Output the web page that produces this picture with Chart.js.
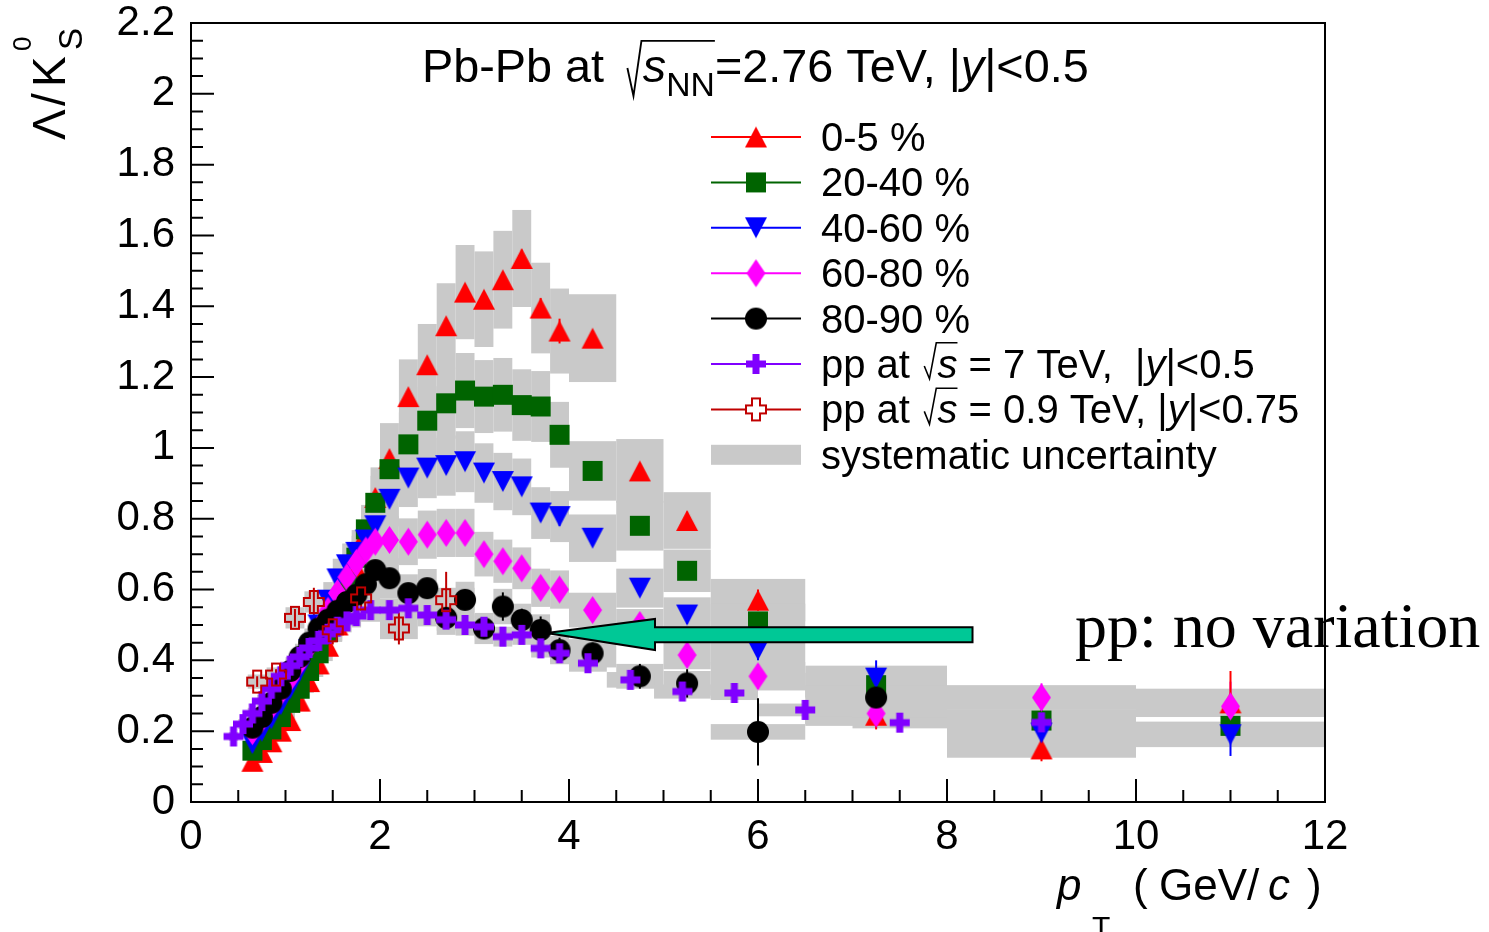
<!DOCTYPE html>
<html>
<head>
<meta charset="utf-8">
<script src="https://cdn.jsdelivr.net/npm/chart.js@4.4.1/dist/chart.umd.min.js"></script>
<style>
  html, body { margin: 0; padding: 0; background: #fff; }
  #wrap { width: 1489px; height: 932px; }
</style>
</head>
<body>
<div id="wrap"><canvas id="ratio-chart" width="1489" height="932"></canvas></div>
<script>
// ---- data ----
const X_TICKS = [0, 2, 4, 6, 8, 10, 12];
const X_TICK_LABELS = ['0', '2', '4', '6', '8', '10', '12'];
const Y_TICKS = [0, 0.2, 0.4, 0.6, 0.8, 1, 1.2, 1.4, 1.6, 1.8, 2, 2.2];
const Y_TICK_LABELS = ['0', '0.2', '0.4', '0.6', '0.8', '1', '1.2', '1.4', '1.6', '1.8', '2', '2.2'];

const pbpbPt = [0.65, 0.75, 0.85, 0.95, 1.05, 1.15, 1.25, 1.35, 1.45, 1.55, 1.65, 1.75, 1.85, 1.95, 2.1, 2.3, 2.5, 2.7, 2.9, 3.1, 3.3, 3.5, 3.7, 3.9, 4.25, 4.75, 5.25, 6.0, 7.25, 9.0, 11.0];
const pbpbEdges = [0.6, 0.7, 0.8, 0.9, 1.0, 1.1, 1.2, 1.3, 1.4, 1.5, 1.6, 1.7, 1.8, 1.9, 2.0, 2.2, 2.4, 2.6, 2.8, 3.0, 3.2, 3.4, 3.6, 3.8, 4.0, 4.5, 5.0, 5.5, 6.5, 8.0, 10.0, 12.0];

const cent0_5 = [0.115, 0.14, 0.17, 0.20, 0.23, 0.285, 0.34, 0.39, 0.44, 0.50, 0.575, 0.66, 0.76, 0.86, 0.97, 1.145, 1.235, 1.345, 1.44, 1.42, 1.475, 1.535, 1.395, 1.33, 1.31, 0.935, 0.795, 0.57, 0.245, 0.15, 0.28];
const cent0_5Stat = [0.003, 0.003, 0.004, 0.004, 0.005, 0.005, 0.006, 0.006, 0.007, 0.007, 0.008, 0.009, 0.01, 0.011, 0.01, 0.012, 0.014, 0.016, 0.018, 0.02, 0.022, 0.025, 0.028, 0.035, 0.02, 0.022, 0.025, 0.03, 0.04, 0.035, 0.09];
const cent0_5Sys = [0.011, 0.013, 0.016, 0.019, 0.022, 0.027, 0.032, 0.037, 0.042, 0.048, 0.055, 0.063, 0.072, 0.085, 0.10, 0.105, 0.115, 0.12, 0.133, 0.135, 0.138, 0.137, 0.128, 0.12, 0.124, 0.09, 0.08, 0.06, 0.03, 0.025, 0.04];

const cent20_40 = [0.145, 0.175, 0.205, 0.24, 0.28, 0.32, 0.37, 0.42, 0.48, 0.55, 0.62, 0.69, 0.77, 0.845, 0.94, 1.01, 1.077, 1.126, 1.162, 1.145, 1.15, 1.121, 1.117, 1.037, 0.935, 0.78, 0.653, 0.51, 0.33, 0.23, 0.215];
const cent20_40Stat = [0.003, 0.003, 0.003, 0.004, 0.004, 0.005, 0.005, 0.006, 0.006, 0.007, 0.007, 0.008, 0.009, 0.01, 0.008, 0.01, 0.011, 0.012, 0.014, 0.015, 0.017, 0.019, 0.021, 0.024, 0.015, 0.018, 0.02, 0.025, 0.04, 0.03, 0.04];
const cent20_40Sys = [0.013, 0.016, 0.019, 0.022, 0.025, 0.029, 0.033, 0.038, 0.043, 0.05, 0.056, 0.062, 0.069, 0.076, 0.085, 0.09, 0.097, 0.1, 0.106, 0.103, 0.104, 0.101, 0.1, 0.093, 0.084, 0.07, 0.06, 0.05, 0.035, 0.03, 0.012];

const cent40_60 = [0.165, 0.20, 0.235, 0.275, 0.32, 0.37, 0.43, 0.50, 0.57, 0.63, 0.67, 0.705, 0.74, 0.78, 0.855, 0.915, 0.943, 0.95, 0.961, 0.929, 0.905, 0.89, 0.816, 0.806, 0.745, 0.604, 0.528, 0.43, 0.35, 0.195, 0.19];
const cent40_60Stat = [0.004, 0.004, 0.004, 0.005, 0.005, 0.006, 0.006, 0.007, 0.007, 0.008, 0.008, 0.009, 0.01, 0.011, 0.01, 0.011, 0.012, 0.014, 0.015, 0.017, 0.019, 0.021, 0.023, 0.026, 0.018, 0.02, 0.025, 0.03, 0.05, 0.035, 0.06];
const cent40_60Sys = [0.015, 0.018, 0.021, 0.025, 0.029, 0.033, 0.039, 0.045, 0.051, 0.057, 0.06, 0.063, 0.067, 0.07, 0.077, 0.082, 0.085, 0.085, 0.086, 0.084, 0.081, 0.08, 0.073, 0.072, 0.067, 0.055, 0.05, 0.045, 0.035, 0.03, 0.035];

const cent60_80 = [0.20, 0.235, 0.27, 0.31, 0.35, 0.395, 0.44, 0.49, 0.54, 0.59, 0.635, 0.675, 0.71, 0.735, 0.74, 0.735, 0.755, 0.76, 0.76, 0.70, 0.68, 0.66, 0.605, 0.60, 0.542, 0.50, 0.415, 0.355, 0.25, 0.295, 0.27];
const cent60_80Stat = [0.005, 0.005, 0.005, 0.006, 0.006, 0.007, 0.007, 0.008, 0.008, 0.009, 0.009, 0.01, 0.011, 0.012, 0.01, 0.011, 0.012, 0.013, 0.015, 0.016, 0.018, 0.02, 0.022, 0.025, 0.02, 0.025, 0.03, 0.035, 0.04, 0.04, 0.07];
const cent60_80Sys = [0.018, 0.021, 0.024, 0.028, 0.031, 0.035, 0.04, 0.044, 0.049, 0.053, 0.057, 0.061, 0.064, 0.066, 0.067, 0.066, 0.068, 0.068, 0.068, 0.063, 0.061, 0.059, 0.054, 0.054, 0.049, 0.045, 0.04, 0.04, 0.03, 0.035, 0.029];

// 80-90 % stops at the 6.5-8 bin
const cent80_90 = [0.21, 0.24, 0.28, 0.32, 0.37, 0.41, 0.45, 0.49, 0.515, 0.54, 0.565, 0.585, 0.615, 0.655, 0.632, 0.59, 0.604, 0.52, 0.571, 0.49, 0.552, 0.514, 0.486, 0.429, 0.42, 0.355, 0.335, 0.198, 0.295];
const cent80_90Stat = [0.008, 0.008, 0.008, 0.009, 0.009, 0.01, 0.01, 0.011, 0.011, 0.012, 0.012, 0.013, 0.014, 0.015, 0.014, 0.016, 0.018, 0.02, 0.024, 0.028, 0.04, 0.032, 0.038, 0.035, 0.03, 0.035, 0.04, 0.095, 0.055];
const cent80_90Sys = [0.02, 0.022, 0.025, 0.029, 0.033, 0.037, 0.04, 0.044, 0.046, 0.048, 0.05, 0.052, 0.055, 0.059, 0.057, 0.053, 0.054, 0.048, 0.051, 0.044, 0.05, 0.046, 0.044, 0.04, 0.04, 0.035, 0.035, 0.022, 0.035];

const pp7Pt = [0.45, 0.55, 0.65, 0.75, 0.85, 0.95, 1.05, 1.15, 1.25, 1.35, 1.45, 1.55, 1.65, 1.75, 1.9, 2.1, 2.3, 2.5, 2.7, 2.9, 3.1, 3.3, 3.5, 3.7, 3.9, 4.2, 4.65, 5.2, 5.75, 6.5, 7.5, 9.0];
const pp7Edges = [0.4, 0.5, 0.6, 0.7, 0.8, 0.9, 1.0, 1.1, 1.2, 1.3, 1.4, 1.5, 1.6, 1.7, 1.8, 2.0, 2.2, 2.4, 2.6, 2.8, 3.0, 3.2, 3.4, 3.6, 3.8, 4.0, 4.4, 4.9, 5.5, 6.0, 7.0, 8.0, 10.0];
const pp7 = [0.185, 0.22, 0.25, 0.285, 0.32, 0.355, 0.385, 0.41, 0.435, 0.455, 0.475, 0.495, 0.51, 0.525, 0.542, 0.542, 0.547, 0.528, 0.515, 0.50, 0.495, 0.467, 0.472, 0.434, 0.42, 0.392, 0.345, 0.312, 0.308, 0.26, 0.224, 0.225];
const pp7Stat = [0.004, 0.003, 0.003, 0.003, 0.003, 0.003, 0.003, 0.003, 0.003, 0.003, 0.003, 0.004, 0.004, 0.004, 0.004, 0.004, 0.005, 0.005, 0.006, 0.006, 0.007, 0.007, 0.008, 0.009, 0.01, 0.008, 0.01, 0.012, 0.015, 0.015, 0.02, 0.02];
const pp7Sys = [0.012, 0.014, 0.016, 0.018, 0.02, 0.022, 0.024, 0.025, 0.026, 0.027, 0.028, 0.03, 0.031, 0.032, 0.033, 0.033, 0.033, 0.032, 0.031, 0.03, 0.03, 0.028, 0.028, 0.026, 0.025, 0.024, 0.022, 0.02, 0.02, 0.018, 0.016, 0.02];

const pp09Pt = [0.7, 0.9, 1.1, 1.3, 1.5, 1.8, 2.2, 2.7];
const pp09Edges = [0.6, 0.8, 1.0, 1.2, 1.4, 1.6, 2.0, 2.4, 3.0];
const pp09 = [0.34, 0.36, 0.52, 0.565, 0.485, 0.575, 0.49, 0.57];
const pp09Stat = [0.015, 0.015, 0.025, 0.04, 0.04, 0.035, 0.045, 0.08];
const pp09Sys = [0.02, 0.02, 0.03, 0.03, 0.03, 0.035, 0.03, 0.035];

// annotation arrow outline, in (pT, ratio) units
const arrowX = [3.765, 4.91, 4.91, 8.27, 8.27, 4.91, 4.91];
const arrowY = [0.477, 0.517, 0.4935, 0.4935, 0.451, 0.451, 0.429];

// ---- style ----
const SANS = "'Liberation Sans', Arial, sans-serif";
const SERIF = "'Liberation Serif', 'Times New Roman', serif";
const SYS_GRAY = '#c9c9c9';

function makeMarker(shape, color, w, h, fill) {
  const pad = 2;
  const c = document.createElement('canvas');
  c.width = w + pad * 2;
  c.height = h + pad * 2;
  const g = c.getContext('2d');
  g.translate(pad, pad);
  g.beginPath();
  if (shape === 'triUp') {
    g.moveTo(0, h); g.lineTo(w / 2, 0); g.lineTo(w, h);
  } else if (shape === 'triDown') {
    g.moveTo(0, 0); g.lineTo(w, 0); g.lineTo(w / 2, h);
  } else if (shape === 'square') {
    g.rect(0, 0, w, h);
  } else if (shape === 'diamond') {
    g.moveTo(w / 2, 0); g.lineTo(w, h / 2); g.lineTo(w / 2, h); g.lineTo(0, h / 2);
  } else if (shape === 'circle') {
    g.arc(w / 2, h / 2, w / 2, 0, Math.PI * 2);
  } else if (shape === 'cross' || shape === 'openCross') {
    const t = shape === 'cross' ? 7 : 8;
    const a = w / 2 - t / 2, b = w / 2 + t / 2, c1 = h / 2 - t / 2, c2 = h / 2 + t / 2;
    g.moveTo(a, 0); g.lineTo(b, 0); g.lineTo(b, c1); g.lineTo(w, c1); g.lineTo(w, c2);
    g.lineTo(b, c2); g.lineTo(b, h); g.lineTo(a, h); g.lineTo(a, c2); g.lineTo(0, c2);
    g.lineTo(0, c1); g.lineTo(a, c1);
  }
  g.closePath();
  if (shape === 'openCross') {
    if (fill) { g.fillStyle = fill; g.fill(); }
    g.strokeStyle = color; g.lineWidth = 2; g.stroke();
  } else {
    g.fillStyle = color; g.fill();
  }
  return c;
}

const SERIES = [
  { label: '0-5 %', pt: pbpbPt, edges: pbpbEdges, val: cent0_5, stat: cent0_5Stat, sys: cent0_5Sys, color: '#ff0000', shape: 'triUp', w: 22, h: 21, order: 6 },
  { label: '20-40 %', pt: pbpbPt, edges: pbpbEdges, val: cent20_40, stat: cent20_40Stat, sys: cent20_40Sys, color: '#006400', shape: 'square', w: 20, h: 20, order: 5 },
  { label: '40-60 %', pt: pbpbPt, edges: pbpbEdges, val: cent40_60, stat: cent40_60Stat, sys: cent40_60Sys, color: '#0000ff', shape: 'triDown', w: 22, h: 21, order: 4 },
  { label: '60-80 %', pt: pbpbPt, edges: pbpbEdges, val: cent60_80, stat: cent60_80Stat, sys: cent60_80Sys, color: '#ff00ff', shape: 'diamond', w: 19, h: 28, order: 3 },
  { label: '80-90 %', pt: pbpbPt.slice(0, cent80_90.length), edges: pbpbEdges, val: cent80_90, stat: cent80_90Stat, sys: cent80_90Sys, color: '#000000', shape: 'circle', w: 22, h: 22, order: 2 },
  { label: 'pp 7 TeV', pt: pp7Pt, edges: pp7Edges, val: pp7, stat: pp7Stat, sys: pp7Sys, color: '#8000ff', shape: 'cross', w: 20, h: 20, order: 1 },
  { label: 'pp 0.9 TeV', pt: pp09Pt, edges: pp09Edges, val: pp09, stat: pp09Stat, sys: pp09Sys, color: '#c00000', shape: 'openCross', w: 20, h: 22, order: 0 }
];
SERIES.forEach(s => {
  s.marker = makeMarker(s.shape, s.color, s.w, s.h);
  s.legendMarker = makeMarker(s.shape, s.color, s.w, s.h, '#ffffff');
});

// legend rows: text pieces (rich text)
const LEGEND_TEXT = [
  [{ t: '0-5 %' }],
  [{ t: '20-40 %' }],
  [{ t: '40-60 %' }],
  [{ t: '60-80 %' }],
  [{ t: '80-90 %' }],
  [{ t: 'pp at ' }, { sqrt: true, low: 0.02, gap: 0.08 }, { t: 's', it: true, over: true }, { t: ' = 7 TeV,  |' }, { t: 'y', it: true }, { t: '|<0.5' }],
  [{ t: 'pp at ' }, { sqrt: true, low: 0.02, gap: 0.08 }, { t: 's', it: true, over: true }, { t: ' = 0.9 TeV, |' }, { t: 'y', it: true }, { t: '|<0.75' }],
  [{ t: 'systematic uncertainty' }]
];
const TITLE_TEXT = [{ t: 'Pb-Pb at ' }, { sqrt: true, low: 0.3, gap: 0.22 }, { t: 's', it: true, over: true }, { t: 'NN', sub: true, over: true }, { t: '=2.76 TeV, |' }, { t: 'y', it: true }, { t: '|<0.5' }];

function partFont(p, size) {
  const sz = (p.sub || p.sup) ? size * 0.72 : size;
  return (p.it ? 'italic ' : '') + sz + 'px ' + SANS;
}

function drawRich(ctx, x, y, parts, size) {
  let cx = x;
  ctx.textAlign = 'left';
  ctx.textBaseline = 'alphabetic';
  parts.forEach((p, k) => {
    if (p.sqrt) {
      let w = 0;
      for (let j = k + 1; j < parts.length && parts[j].over; j++) {
        ctx.font = partFont(parts[j], size);
        w += ctx.measureText(parts[j].t).width;
      }
      cx += (p.gap || 0) * size;
      ctx.save();
      ctx.strokeStyle = '#000';
      ctx.lineWidth = Math.max(1.5, size * 0.04);
      ctx.beginPath();
      ctx.moveTo(cx, y - 0.3 * size);
      ctx.lineTo(cx + 0.13 * size, y + p.low * size);
      ctx.lineTo(cx + 0.3 * size, y - 0.88 * size);
      ctx.lineTo(cx + 0.33 * size + w, y - 0.88 * size);
      ctx.stroke();
      ctx.restore();
      cx += 0.33 * size;
      return;
    }
    ctx.font = partFont(p, size);
    const dy = p.sub ? size * 0.3 : (p.sup ? -size * 0.45 : 0);
    ctx.fillText(p.t, cx, y + dy);
    cx += ctx.measureText(p.t).width;
  });
}

const rootStyle = {
  id: 'rootStyle',
  beforeDatasetsDraw(chart) {
    const { ctx, chartArea: a, scales: { x, y } } = chart;
    ctx.save();
    ctx.beginPath();
    ctx.rect(a.left, a.top, a.right - a.left, a.bottom - a.top);
    ctx.clip();
    // systematic boxes
    ctx.fillStyle = SYS_GRAY;
    SERIES.forEach(s => {
      s.pt.forEach((p, i) => {
        const x0 = x.getPixelForValue(s.edges[i]);
        const x1 = x.getPixelForValue(s.edges[i + 1]);
        const y0 = y.getPixelForValue(s.val[i] + s.sys[i]);
        const y1 = y.getPixelForValue(s.val[i] - s.sys[i]);
        ctx.fillRect(x0, y0, x1 - x0, y1 - y0);
      });
    });
    // statistical error bars
    ctx.lineWidth = 2;
    SERIES.slice().reverse().forEach(s => {
      ctx.strokeStyle = s.color;
      s.pt.forEach((p, i) => {
        const px = x.getPixelForValue(p);
        ctx.beginPath();
        ctx.moveTo(px, y.getPixelForValue(s.val[i] + s.stat[i]));
        ctx.lineTo(px, y.getPixelForValue(s.val[i] - s.stat[i]));
        ctx.stroke();
      });
    });
    ctx.restore();
  },
  afterDraw(chart) {
    const { ctx, chartArea: a, scales: { x, y } } = chart;
    ctx.save();

    // frame + inward ticks
    ctx.strokeStyle = '#000';
    ctx.lineWidth = 2;
    ctx.strokeRect(a.left, a.top, a.right - a.left, a.bottom - a.top);
    ctx.beginPath();
    for (let i = 0; i < Y_TICKS.length; i++) {
      const v = Y_TICKS[i];
      const py = y.getPixelForValue(v);
      ctx.moveTo(a.left, py); ctx.lineTo(a.left + 23, py);
      if (i < Y_TICKS.length - 1) {
        const step = (Y_TICKS[i + 1] - v) / 4;
        for (let k = 1; k < 4; k++) {
          const pm = y.getPixelForValue(v + k * step);
          ctx.moveTo(a.left, pm); ctx.lineTo(a.left + 12, pm);
        }
      }
    }
    for (let i = 0; i < X_TICKS.length; i++) {
      const v = X_TICKS[i];
      const px = x.getPixelForValue(v);
      ctx.moveTo(px, a.bottom); ctx.lineTo(px, a.bottom - 23);
      if (i < X_TICKS.length - 1) {
        const step = (X_TICKS[i + 1] - v) / 4;
        for (let k = 1; k < 4; k++) {
          const pm = x.getPixelForValue(v + k * step);
          ctx.moveTo(pm, a.bottom); ctx.lineTo(pm, a.bottom - 12);
        }
      }
    }
    ctx.stroke();

    // arrow annotation
    ctx.beginPath();
    arrowX.forEach((vx, i) => {
      const px = x.getPixelForValue(vx), py = y.getPixelForValue(arrowY[i]);
      if (i === 0) ctx.moveTo(px, py); else ctx.lineTo(px, py);
    });
    ctx.closePath();
    ctx.fillStyle = '#00c896';
    ctx.fill();
    ctx.lineWidth = 2;
    ctx.strokeStyle = '#000';
    ctx.stroke();

    // legend
    const lx0 = 711, lx1 = 801, lm = 756, ltx = 821, ly0 = 137, lstep = 45.4;
    SERIES.forEach((s, i) => {
      const cy = ly0 + i * lstep;
      ctx.strokeStyle = s.color;
      ctx.lineWidth = 2;
      ctx.beginPath(); ctx.moveTo(lx0, cy); ctx.lineTo(lx1, cy); ctx.stroke();
      const m = s.legendMarker;
      ctx.drawImage(m, lm - m.width / 2, cy - m.height / 2);
    });
    const syCy = ly0 + SERIES.length * lstep;
    ctx.fillStyle = SYS_GRAY;
    ctx.fillRect(lx0, syCy - 10, lx1 - lx0, 20);
    ctx.fillStyle = '#000';
    LEGEND_TEXT.forEach((parts, i) => drawRich(ctx, ltx, ly0 + i * lstep + 14, parts, 40));

    // title
    drawRich(ctx, 422, 82, TITLE_TEXT, 46.8);

    // annotation text
    ctx.font = '64px ' + SERIF;
    ctx.fillText('pp: no variation', 1075, 647);

    // x axis title
    ctx.font = 'italic 44px ' + SANS;
    ctx.fillText('p', 1057, 900);
    ctx.font = '30px ' + SANS;
    ctx.fillText('T', 1092, 937);
    ctx.font = '44px ' + SANS;
    ctx.fillText('(', 1133, 900);
    ctx.fillText('GeV/', 1159, 900);
    ctx.font = 'italic 44px ' + SANS;
    ctx.fillText('c', 1268, 900);
    ctx.font = '44px ' + SANS;
    ctx.fillText(')', 1307, 900);

    // y axis title (rotated)
    ctx.translate(65, 140);
    ctx.rotate(-Math.PI / 2);
    ctx.font = '46px ' + SANS;
    ctx.fillText('\u039B', 0, 0);
    ctx.fillText('/', 34, 0);
    ctx.fillText('K', 53, 0);
    ctx.font = '26px ' + SANS;
    ctx.fillText('0', 89, -34);
    ctx.font = '33px ' + SANS;
    ctx.fillText('S', 90, 17);

    ctx.restore();
  }
};

const canvas = document.getElementById('ratio-chart');
const chart = new Chart(canvas.getContext('2d'), {
  type: 'scatter',
  data: {
    datasets: SERIES.map(s => ({
      label: s.label,
      data: s.pt.map((p, i) => ({ x: p, y: s.val[i] })),
      pointStyle: s.marker,
      pointRadius: 11,
      showLine: false,
      order: s.order
    }))
  },
  options: {
    responsive: false,
    animation: false,
    events: [],
    layout: { padding: { left: 0, right: 164, top: 23, bottom: 0 } },
    plugins: { legend: { display: false }, tooltip: { enabled: false } },
    scales: {
      x: {
        type: 'linear',
        min: 0,
        max: 12,
        afterBuildTicks: scale => { scale.ticks = X_TICKS.map(v => ({ value: v })); },
        afterFit: scale => {
          scale.height = 130;
          scale.paddingLeft = 0;
          scale.paddingRight = 0;
        },
        grid: { display: false, drawTicks: false },
        border: { display: false },
        ticks: {
          color: '#000',
          font: { family: SANS, size: 42 },
          padding: 10,
          maxRotation: 0,
          autoSkip: false,
          callback: (v, i) => X_TICK_LABELS[i]
        }
      },
      y: {
        type: 'linear',
        min: 0,
        max: 2.2,
        afterBuildTicks: scale => { scale.ticks = Y_TICKS.map(v => ({ value: v })); },
        afterFit: scale => {
          scale.width = 191;
          scale.paddingTop = 0;
          scale.paddingBottom = 0;
        },
        grid: { display: false, drawTicks: false },
        border: { display: false },
        ticks: {
          color: '#000',
          font: { family: SANS, size: 42 },
          padding: 16,
          autoSkip: false,
          callback: (v, i) => Y_TICK_LABELS[i]
        }
      }
    }
  },
  plugins: [rootStyle]
});
</script>
</body>
</html>
